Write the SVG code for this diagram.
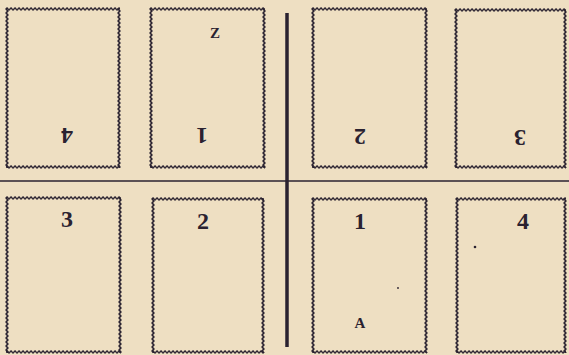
<svg xmlns="http://www.w3.org/2000/svg" width="569" height="355" viewBox="0 0 569 355">
<style>
.h{fill:url(#wh)}
.v{fill:url(#wv)}
.n{font-family:"Liberation Serif",serif;font-weight:bold;font-size:24px;fill:#2a2230;text-anchor:middle}
.c{font-family:"Liberation Serif",serif;font-weight:bold;font-size:15px;fill:#2a2230;text-anchor:middle}
.ln{stroke:#2a2230;fill:none}
</style>
<defs>
<pattern id="wh" patternUnits="userSpaceOnUse" width="4" height="4">
<path d="M-2 2 Q-1 3.8 0 2 T2 2 T4 2 T6 2" fill="none" stroke="#2a2230" stroke-width="1.5"/>
</pattern>
<pattern id="wv" patternUnits="userSpaceOnUse" width="4" height="4">
<path d="M2 -2 Q3.8 -1 2 0 T2 2 T2 4 T2 6" fill="none" stroke="#2a2230" stroke-width="1.5"/>
</pattern>
</defs>
<rect width="569" height="355" fill="#eedfc2"/>
<g id="connectors">
<line class="ln" x1="0" y1="181" x2="569" y2="181" stroke-width="1.6"/>
<line class="ln" x1="287" y1="13" x2="287" y2="347" stroke-width="3.5"/>
</g>
<g id="box-top-1">
<rect class="h" width="114" height="4" transform="translate(6,7)"/>
<rect class="h" width="114" height="4" transform="translate(6,165)"/>
<rect class="v" width="4" height="160" transform="translate(5,8)"/>
<rect class="v" width="4" height="160" transform="translate(117,8)"/>
<text class="n" x="67" y="144" transform="rotate(180 67 136)">4</text>
</g>
<g id="box-top-2">
<rect class="h" width="115" height="4" transform="translate(150,7)"/>
<rect class="h" width="115" height="4" transform="translate(150,165)"/>
<rect class="v" width="4" height="160" transform="translate(149,8)"/>
<rect class="v" width="4" height="160" transform="translate(262,8)"/>
<text class="c" x="215" y="38">Z</text>
<text class="n" x="202" y="144" transform="rotate(180 202 136)">1</text>
</g>
<g id="box-top-3">
<rect class="h" width="115" height="4" transform="translate(312,7)"/>
<rect class="h" width="115" height="4" transform="translate(312,165)"/>
<rect class="v" width="4" height="160" transform="translate(311,8)"/>
<rect class="v" width="4" height="160" transform="translate(424,8)"/>
<text class="n" x="360" y="145" transform="rotate(180 360 137)">2</text>
</g>
<g id="box-top-4">
<rect class="h" width="111" height="4" transform="translate(455,8)"/>
<rect class="h" width="111" height="4" transform="translate(455,165)"/>
<rect class="v" width="4" height="159" transform="translate(454,9)"/>
<rect class="v" width="4" height="159" transform="translate(563,9)"/>
<text class="n" x="520" y="146" transform="rotate(180 520 138)">3</text>
</g>
<g id="box-bottom-1">
<rect class="h" width="115" height="4" transform="translate(6,196)"/>
<rect class="h" width="115" height="4" transform="translate(6,350)"/>
<rect class="v" width="4" height="156" transform="translate(5,197)"/>
<rect class="v" width="4" height="156" transform="translate(118,197)"/>
<text class="n" x="67" y="227">3</text>
</g>
<g id="box-bottom-2">
<rect class="h" width="112" height="4" transform="translate(152,197)"/>
<rect class="h" width="112" height="4" transform="translate(152,350)"/>
<rect class="v" width="4" height="155" transform="translate(151,198)"/>
<rect class="v" width="4" height="155" transform="translate(261,198)"/>
<text class="n" x="203" y="229">2</text>
</g>
<g id="box-bottom-3">
<rect class="h" width="115" height="4" transform="translate(312,197)"/>
<rect class="h" width="115" height="4" transform="translate(312,350)"/>
<rect class="v" width="4" height="155" transform="translate(311,198)"/>
<rect class="v" width="4" height="155" transform="translate(424,198)"/>
<text class="n" x="360" y="229">1</text>
<text class="c" x="360" y="328">A</text>
<circle cx="398" cy="288" r="0.9" fill="#2a2230"/>
</g>
<g id="box-bottom-4">
<rect class="h" width="110" height="4" transform="translate(456,197)"/>
<rect class="h" width="110" height="4" transform="translate(456,350)"/>
<rect class="v" width="4" height="155" transform="translate(455,198)"/>
<rect class="v" width="4" height="155" transform="translate(563,198)"/>
<text class="n" x="523" y="229">4</text>
<circle cx="475" cy="247" r="1.3" fill="#2a2230"/>
</g>
</svg>
